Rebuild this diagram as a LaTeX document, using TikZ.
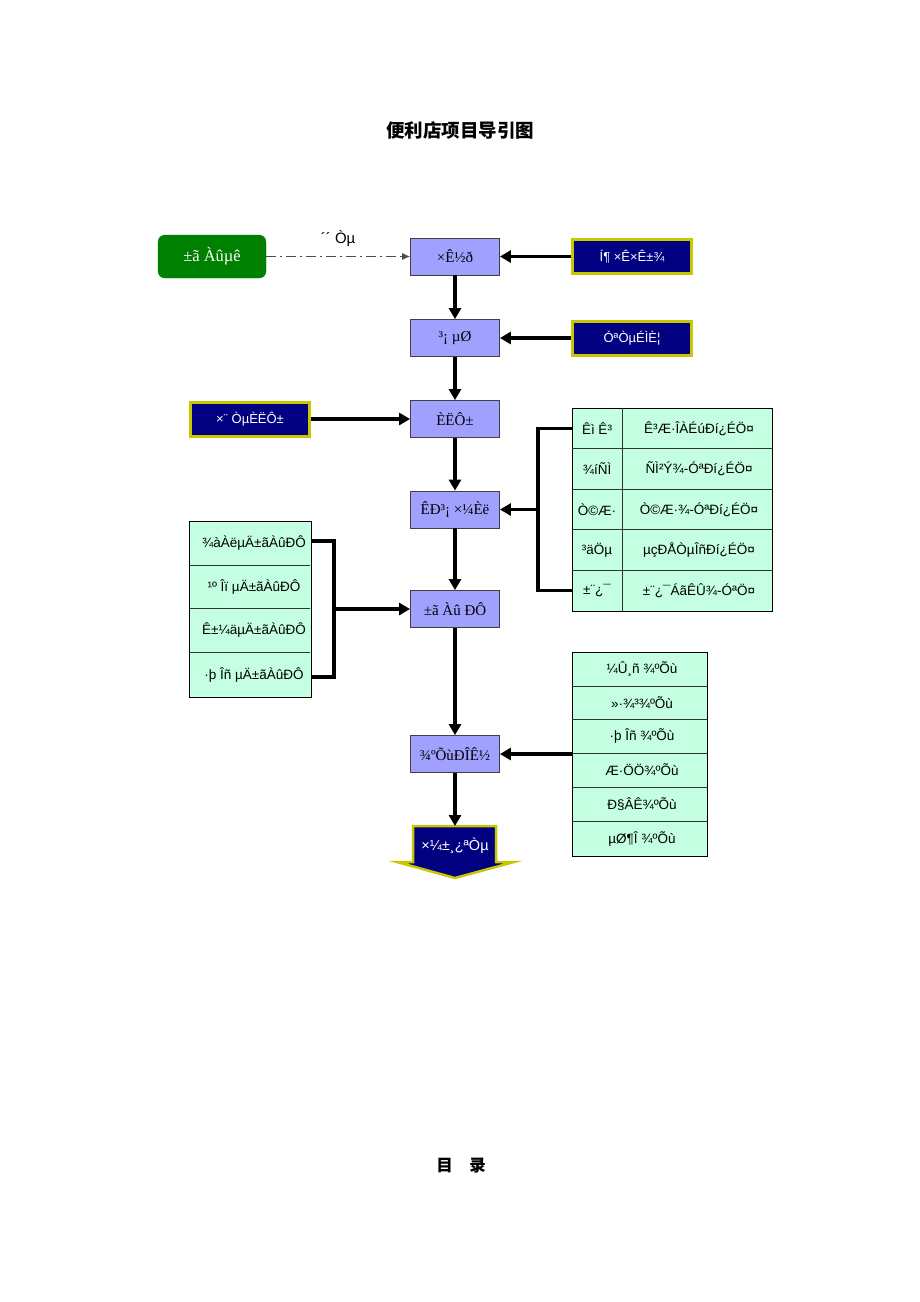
\documentclass[tikz,border=0pt]{standalone}
\usepackage{fontspec}
\setmainfont{Liberation Serif}
\setsansfont{Liberation Sans}
\newfontfamily\cjk{Noto Sans CJK SC}
\usetikzlibrary{arrows.meta}
\definecolor{lav}{RGB}{160,160,255}
\definecolor{mint}{RGB}{196,255,226}
\definecolor{dgreen}{RGB}{0,128,0}
\definecolor{navyb}{RGB}{0,0,128}
\definecolor{oliveb}{RGB}{200,200,0}
\tikzset{
  mainbox/.style={draw=black!75, line width=0.8pt, fill=lav, minimum width=89pt, minimum height=37pt, inner sep=0pt, font=\rmfamily\fontsize{15}{17}\selectfont},
  navybox/.style={draw=oliveb, line width=3pt, fill=navyb, text=white, minimum width=119pt, minimum height=34pt, inner sep=0pt, font=\sffamily\fontsize{13}{15}\selectfont},
  celltext/.style={inner sep=0pt, font=\sffamily\fontsize{13.5}{15}\selectfont},
  arr/.style={line width=3.2pt, -{Triangle[length=11pt,width=12pt]}},
  brk/.style={line width=3.2pt},
  tbl/.style={draw=black, line width=0.8pt, fill=mint},
  sep/.style={draw=black!80, line width=0.8pt}
}
\begin{document}
\begin{tikzpicture}[x=1pt,y=-1pt]
\useasboundingbox (0,0) rectangle (920,1302);
\fill[white] (0,0) rectangle (920,1302);

% title
\node[font=\cjk\bfseries\fontsize{18.5}{22}\selectfont] (title) at (460,130) {便利店项目导引图};
\node[font=\cjk\bfseries\fontsize{16.5}{20}\selectfont] (mulu) at (461,1166) {目\quad 录};

% main column
\node[mainbox] (zijin) at (455,256.5) {×Ê½ð};
\node[mainbox] (changdi) at (455,338) {³¡ µØ};
\node[mainbox] (renyuan) at (455,419) {ÈËÔ±};
\node[mainbox] (shichang) at (455,509.5) {ÊÐ³¡ ×¼Èë};
\node[mainbox] (bianli) at (455,609) {±ã Àû ÐÔ};
\node[mainbox] (jingzheng) at (455,754) {¾ºÕùÐÎÊ½};

% green start
\node[draw=dgreen, fill=dgreen, rounded corners=7pt, minimum width=108pt, minimum height=43pt, text=white, font=\rmfamily\fontsize{16.5}{18}\selectfont] (start) at (212,256.5) {±ã Àûµê};

% navy boxes
\node[navybox] (touzi) at (632,256.5) {Í¶ ×Ê×Ê±¾};
\node[navybox] (shangquan) at (632,338) {ÓªÒµÉÌÈ¦};
\node[navybox] (zhuanye) at (250,419) {×¨ ÒµÈËÔ±};

% dash-dot connector
\draw[black!70, line width=0.9pt, dash pattern=on 10pt off 4pt on 2pt off 4pt, -{Latex[length=8pt,width=7pt]}] (start.east) -- (zijin.west)
  node[midway, above=6pt, font=\sffamily\fontsize{15}{17}\selectfont, text=black] (chuangye) {´´ Òµ};

\draw[arr] (touzi.west) -- (zijin.east);
\draw[arr] (shangquan.west) -- (changdi.east);
\draw[arr] (zhuanye.east) -- (renyuan.west);

% vertical chain
\draw[arr] (zijin.south) -- (changdi.north);
\draw[arr] (changdi.south) -- (renyuan.north);
\draw[arr] (renyuan.south) -- (shichang.north);
\draw[arr] (shichang.south) -- (bianli.north);
\draw[arr] (bianli.south) -- (jingzheng.north);

% right table (licences)
\draw[tbl] (572,408) rectangle (772,611);
\foreach \yy in {448.6,489.2,529.8,570.4} \draw[sep] (572,\yy) -- (772,\yy);
\draw[sep] (622,408) -- (622,611);
\node[celltext] (t1a) at (597,428.3) {Êì Ê³};
\node[celltext] (t1b) at (699,428.3) {Ê³Æ·ÎÀÉúÐí¿ÉÖ¤};
\node[celltext] (t2a) at (597,468.9) {¾íÑÌ};
\node[celltext] (t2b) at (699,468.9) {ÑÌ²Ý¾-ÓªÐí¿ÉÖ¤};
\node[celltext] (t3a) at (597,509.5) {Ò©Æ·};
\node[celltext] (t3b) at (699,509.5) {Ò©Æ·¾-ÓªÐí¿ÉÖ¤};
\node[celltext] (t4a) at (597,550.1) {³äÖµ};
\node[celltext] (t4b) at (699,550.1) {µçÐÅÒµÎñÐí¿ÉÖ¤};
\node[celltext] (t5a) at (597,590.7) {±¨¿¯};
\node[celltext] (t5b) at (699,590.7) {±¨¿¯ÁãÊÛ¾-ÓªÖ¤};
\coordinate (rb1) at (572,428.3);
\coordinate (rb5) at (572,590.7);
\draw[brk] (rb1) -- (538,428.3) -- (538,590.7) -- (rb5);
\coordinate (rbm) at (538,509.5);
\draw[arr] (rbm) -- (shichang.east);

% left list (convenience)
\draw[tbl] (189,521) rectangle (311,697);
\foreach \yy in {565,608.5,652} \draw[sep] (190,\yy) -- (310,\yy);
\node[celltext] (l1) at (254,543) {¾àÀëµÄ±ãÀûÐÔ};
\node[celltext] (l2) at (254,586.5) {¹º Îï µÄ±ãÀûÐÔ};
\node[celltext] (l3) at (254,630) {Ê±¼äµÄ±ãÀûÐÔ};
\node[celltext] (l4) at (254,674.5) {·þ Îñ µÄ±ãÀûÐÔ};
\coordinate (lb1) at (311,541);
\coordinate (lb4) at (311,677);
\draw[brk] (lb1) -- (334,541) -- (334,677) -- (lb4);
\coordinate (lbm) at (334,609);
\draw[arr] (lbm) -- (bianli.west);

% right list (competition)
\draw[tbl] (572,652) rectangle (707,856);
\foreach \yy in {686,719.5,753,787,821} \draw[sep] (572,\yy) -- (707,\yy);
\node[celltext] (c1) at (642,669) {¼Û¸ñ ¾ºÕù};
\node[celltext] (c2) at (642,702.5) {»·¾³¾ºÕù};
\node[celltext] (c3) at (642,736) {·þ Îñ ¾ºÕù};
\node[celltext] (c4) at (642,770) {Æ·ÖÖ¾ºÕù};
\node[celltext] (c5) at (642,804) {Ð§ÂÊ¾ºÕù};
\node[celltext] (c6) at (642,838.5) {µØ¶Î ¾ºÕù};
\coordinate (cl) at (572,754);
\draw[arr] (cl) -- (jingzheng.east);

% final block arrow
\draw[draw=oliveb, line width=2.5pt, fill=navyb, line join=miter]
  (413,826) -- (496,826) -- (496,862) -- (514,862) -- (455,878) -- (397,862) -- (413,862) -- cycle;
\node[text=white, font=\sffamily\fontsize{14.5}{16}\selectfont] (kaiye) at (455,846) {×¼±¸¿ªÒµ};
\coordinate (kytop) at (455,826);
\draw[arr] (jingzheng.south) -- (kytop);
\end{tikzpicture}
\end{document}
